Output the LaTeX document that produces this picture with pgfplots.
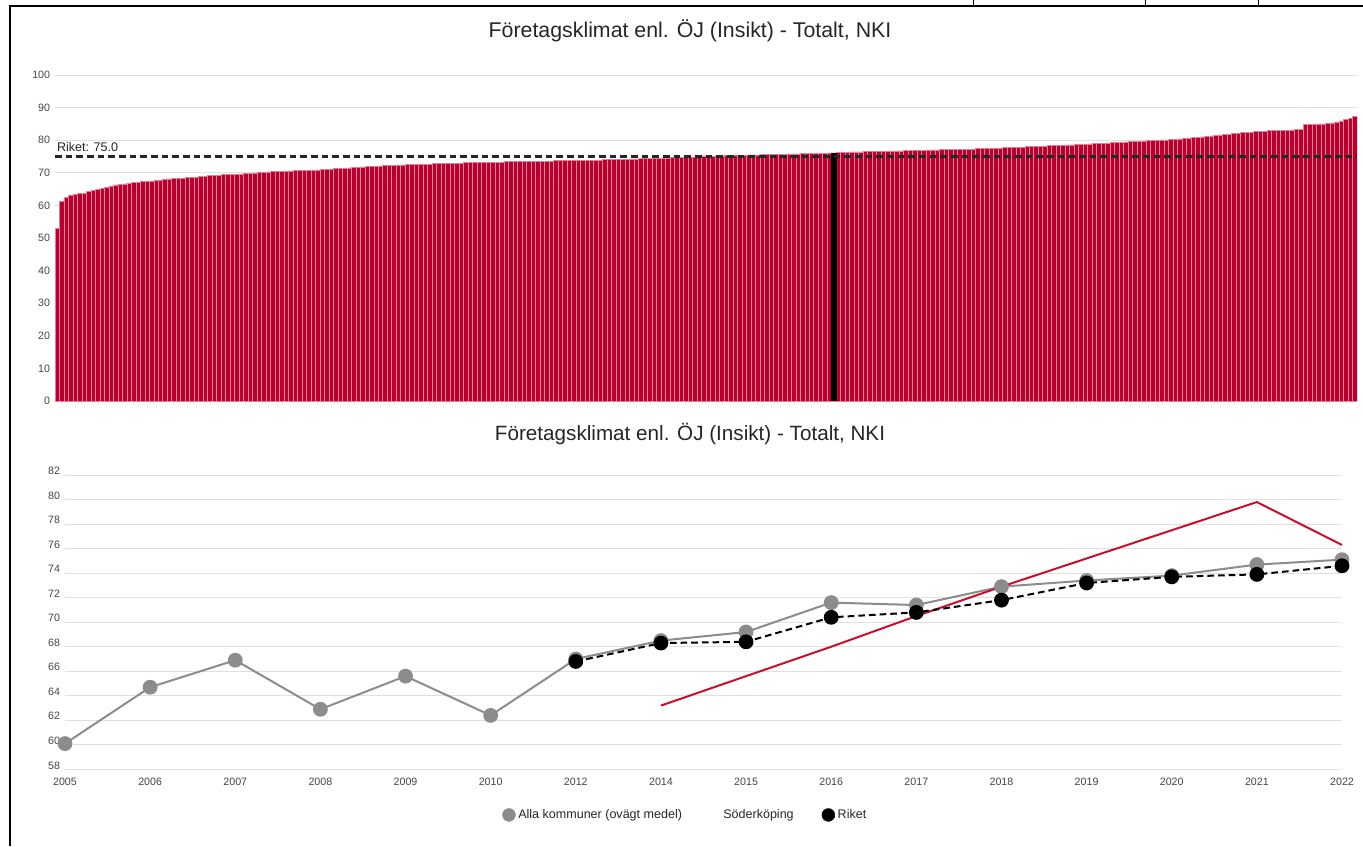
\documentclass[border=0pt]{standalone}
\usepackage{fontspec}
\setmainfont{Liberation Sans}
\usepackage{pgfplots}
\pgfplotsset{compat=1.18}
\usepackage{pgfplotstable}

\definecolor{barred}{RGB}{182,0,46}
\definecolor{barsep}{RGB}{226,128,150}
\definecolor{linered}{RGB}{200,16,46}
\definecolor{avggray}{RGB}{140,140,140}
\definecolor{gridgray}{RGB}{224,224,224}
\definecolor{ticktext}{RGB}{68,68,68}

% sorted municipality values, one per bar
\pgfplotstableread[row sep=\\]{
v\\
53.0\\ 61.2\\ 62.5\\ 63.2\\ 63.4\\ 63.6\\ 63.8\\ 64.3\\ 64.7\\ 65.0\\
65.3\\ 65.6\\ 66.0\\ 66.3\\ 66.5\\ 66.6\\ 66.8\\ 67.0\\ 67.1\\ 67.3\\
67.4\\ 67.5\\ 67.6\\ 67.8\\ 67.9\\ 68.1\\ 68.2\\ 68.3\\ 68.4\\ 68.5\\
68.6\\ 68.7\\ 68.9\\ 69.0\\ 69.1\\ 69.2\\ 69.3\\ 69.4\\ 69.5\\ 69.5\\
69.6\\ 69.7\\ 69.8\\ 69.9\\ 70.0\\ 70.1\\ 70.2\\ 70.3\\ 70.4\\ 70.5\\
70.5\\ 70.6\\ 70.6\\ 70.7\\ 70.7\\ 70.8\\ 70.8\\ 70.9\\ 70.9\\ 71.0\\
71.1\\ 71.2\\ 71.3\\ 71.3\\ 71.4\\ 71.5\\ 71.6\\ 71.7\\ 71.8\\ 71.9\\
72.0\\ 72.0\\ 72.1\\ 72.2\\ 72.3\\ 72.3\\ 72.4\\ 72.4\\ 72.5\\ 72.5\\
72.6\\ 72.6\\ 72.7\\ 72.7\\ 72.8\\ 72.8\\ 72.9\\ 72.9\\ 73.0\\ 73.0\\
73.0\\ 73.1\\ 73.1\\ 73.1\\ 73.2\\ 73.2\\ 73.2\\ 73.3\\ 73.3\\ 73.3\\
73.4\\ 73.4\\ 73.4\\ 73.5\\ 73.5\\ 73.5\\ 73.5\\ 73.6\\ 73.6\\ 73.6\\
73.6\\ 73.7\\ 73.7\\ 73.7\\ 73.7\\ 73.8\\ 73.8\\ 73.8\\ 73.8\\ 73.9\\
73.9\\ 73.9\\ 74.0\\ 74.0\\ 74.1\\ 74.1\\ 74.2\\ 74.2\\ 74.3\\ 74.3\\
74.4\\ 74.4\\ 74.5\\ 74.5\\ 74.5\\ 74.6\\ 74.6\\ 74.7\\ 74.7\\ 74.8\\
74.8\\ 74.9\\ 74.9\\ 75.0\\ 75.0\\ 75.1\\ 75.1\\ 75.2\\ 75.2\\ 75.3\\
75.3\\ 75.3\\ 75.4\\ 75.4\\ 75.5\\ 75.5\\ 75.5\\ 75.6\\ 75.6\\ 75.6\\
75.7\\ 75.7\\ 75.7\\ 75.8\\ 75.8\\ 75.8\\ 75.9\\ 75.9\\ 75.9\\ 76.0\\
76.0\\ 76.0\\ 76.1\\ 76.1\\ 76.2\\ 76.3\\ 76.3\\ 76.4\\ 76.4\\ 76.4\\
76.5\\ 76.5\\ 76.5\\ 76.6\\ 76.6\\ 76.6\\ 76.7\\ 76.7\\ 76.7\\ 76.8\\
76.8\\ 76.8\\ 76.9\\ 76.9\\ 77.0\\ 77.0\\ 77.0\\ 77.1\\ 77.1\\ 77.2\\
77.2\\ 77.2\\ 77.3\\ 77.3\\ 77.3\\ 77.4\\ 77.4\\ 77.5\\ 77.5\\ 77.6\\
77.6\\ 77.7\\ 77.7\\ 77.8\\ 77.8\\ 77.9\\ 78.0\\ 78.0\\ 78.1\\ 78.2\\
78.2\\ 78.3\\ 78.4\\ 78.4\\ 78.5\\ 78.6\\ 78.6\\ 78.7\\ 78.8\\ 78.8\\
78.9\\ 79.0\\ 79.0\\ 79.1\\ 79.2\\ 79.3\\ 79.3\\ 79.4\\ 79.5\\ 79.6\\
79.6\\ 79.7\\ 79.8\\ 79.9\\ 79.9\\ 80.0\\ 80.1\\ 80.1\\ 80.2\\ 80.3\\
80.4\\ 80.5\\ 80.6\\ 80.8\\ 80.9\\ 81.0\\ 81.2\\ 81.3\\ 81.5\\ 81.6\\
81.8\\ 81.9\\ 82.1\\ 82.2\\ 82.3\\ 82.4\\ 82.5\\ 82.6\\ 82.7\\ 82.8\\
82.9\\ 82.9\\ 83.0\\ 83.1\\ 83.1\\ 83.2\\ 83.3\\ 83.4\\ 84.8\\ 84.9\\
84.9\\ 85.0\\ 85.0\\ 85.1\\ 85.3\\ 85.6\\ 85.9\\ 86.5\\ 86.8\\ 87.3\\
}\bars

\pgfplotsset{
  gchart/.style={
    scale only axis,
    ymajorgrids,
    grid style={gridgray, line width=0.75pt},
    tick style={draw=none},
    tick label style={font=\fontsize{8}{9.6}\selectfont, text=ticktext},
    /pgf/number format/assume math mode=true,
    yticklabel style={anchor=east, inner sep=0pt, xshift=-3.5pt},
  },
}

\begin{document}
\begin{tikzpicture}[x=0.75pt,y=-0.75pt]
\path[use as bounding box] (0,0) rectangle (1363,846);
% page frame from the report
\draw[line width=1.5pt] (10,846) -- (10,6) -- (1363,6);
\foreach \xx in {973,1145,1258} \draw[line width=0.75pt] (\xx,0) -- (\xx,6);

\node[font=\fontsize{16}{19}\selectfont, text=black!85] at (690,31) {Företagsklimat enl. ÖJ (Insikt) - Totalt, NKI};

\begin{axis}[
  gchart,
  at={(41.25pt,-300.75pt)}, anchor=south west,
  width=976.5pt, height=244.5pt,
  xmin=-0.5, xmax=289.5, ymin=0, ymax=100,
  ytick={0,10,...,100}, xtick=\empty,
  axis x line*=bottom, axis y line*=left,
  x axis line style={black!75, line width=0.75pt},
  y axis line style={draw=none},
]
\addplot[ybar, bar width=1, bar shift=0pt, fill=barred, draw=barsep, line width=0.4pt]
  table[x expr=\coordindex, y=v] {\bars};
% Söderköping
\addplot[ybar, bar width=1.2, bar shift=0pt, fill=black, draw=none] coordinates {(173,76.1)};
% Riket
\addplot[black!85, line width=1.6pt, dash pattern=on 5pt off 3pt, sharp plot, no marks]
  coordinates {(-0.5,75) (289.5,75)};
\node[anchor=south west, inner sep=0pt, font=\fontsize{9.4}{11}\selectfont, text=black!85]
  at (axis cs:-0.1,76.3) {Riket: 75.0};
\end{axis}

\node[font=\fontsize{15.5}{18}\selectfont, text=black!85] at (690,434) {Företagsklimat enl. ÖJ (Insikt) - Totalt, NKI};

\begin{axis}[
  gchart,
  at={(48.75pt,-577pt)}, anchor=south west,
  width=957.75pt, height=220.7pt,
  xmin=0, xmax=15, ymin=58, ymax=82,
  ytick={58,60,...,82},
  xtick={0,...,15},
  xticklabels={2005,2006,2007,2008,2009,2010,2012,2014,2015,2016,2017,2018,2019,2020,2021,2022},
  yticklabel style={yshift=3pt},
  xticklabel style={yshift=-3pt},
  axis line style={draw=none},
  clip=false,
  legend columns=3,
  legend style={at={(0.486,-0.155)}, anchor=center, draw=none, fill=none,
    font=\fontsize{9.4}{11}\selectfont, text=black!85,
    /tikz/column 2/.append style={column sep=27pt},
    /tikz/column 4/.append style={column sep=19pt}},
]
\addplot[avggray, line width=1.5pt, mark=*, mark size=4.8pt, forget plot] coordinates {
  (0,60.1) (1,64.7) (2,66.9) (3,62.9) (4,65.6) (5,62.4) (6,67.0) (7,68.5)
  (8,69.2) (9,71.6) (10,71.4) (11,72.9) (12,73.4) (13,73.8) (14,74.7) (15,75.1)};
\addplot[linered, line width=1.5pt, no marks, forget plot] coordinates {
  (7,63.2) (8,65.6) (9,68.0) (10,70.5) (11,72.9) (12,75.2) (13,77.5) (14,79.8) (15,76.3)};
\addplot[black, line width=1.5pt, dash pattern=on 5pt off 3pt, mark=*, mark size=4.8pt,
  mark options={solid}, forget plot] coordinates {
  (6,66.8) (7,68.3) (8,68.4) (9,70.4) (10,70.8) (11,71.8) (12,73.2) (13,73.7) (14,73.9) (15,74.6)};

\addlegendimage{legend image code/.code={\fill[avggray] (0.1cm,0) circle (4.8pt);}}
\addlegendentry{Alla kommuner (ovägt medel)}
\addlegendimage{empty legend}
\addlegendentry{Söderköping}
\addlegendimage{legend image code/.code={\fill[black] (0.1cm,0) circle (4.8pt);}}
\addlegendentry{Riket}
\end{axis}
\end{tikzpicture}
\end{document}
